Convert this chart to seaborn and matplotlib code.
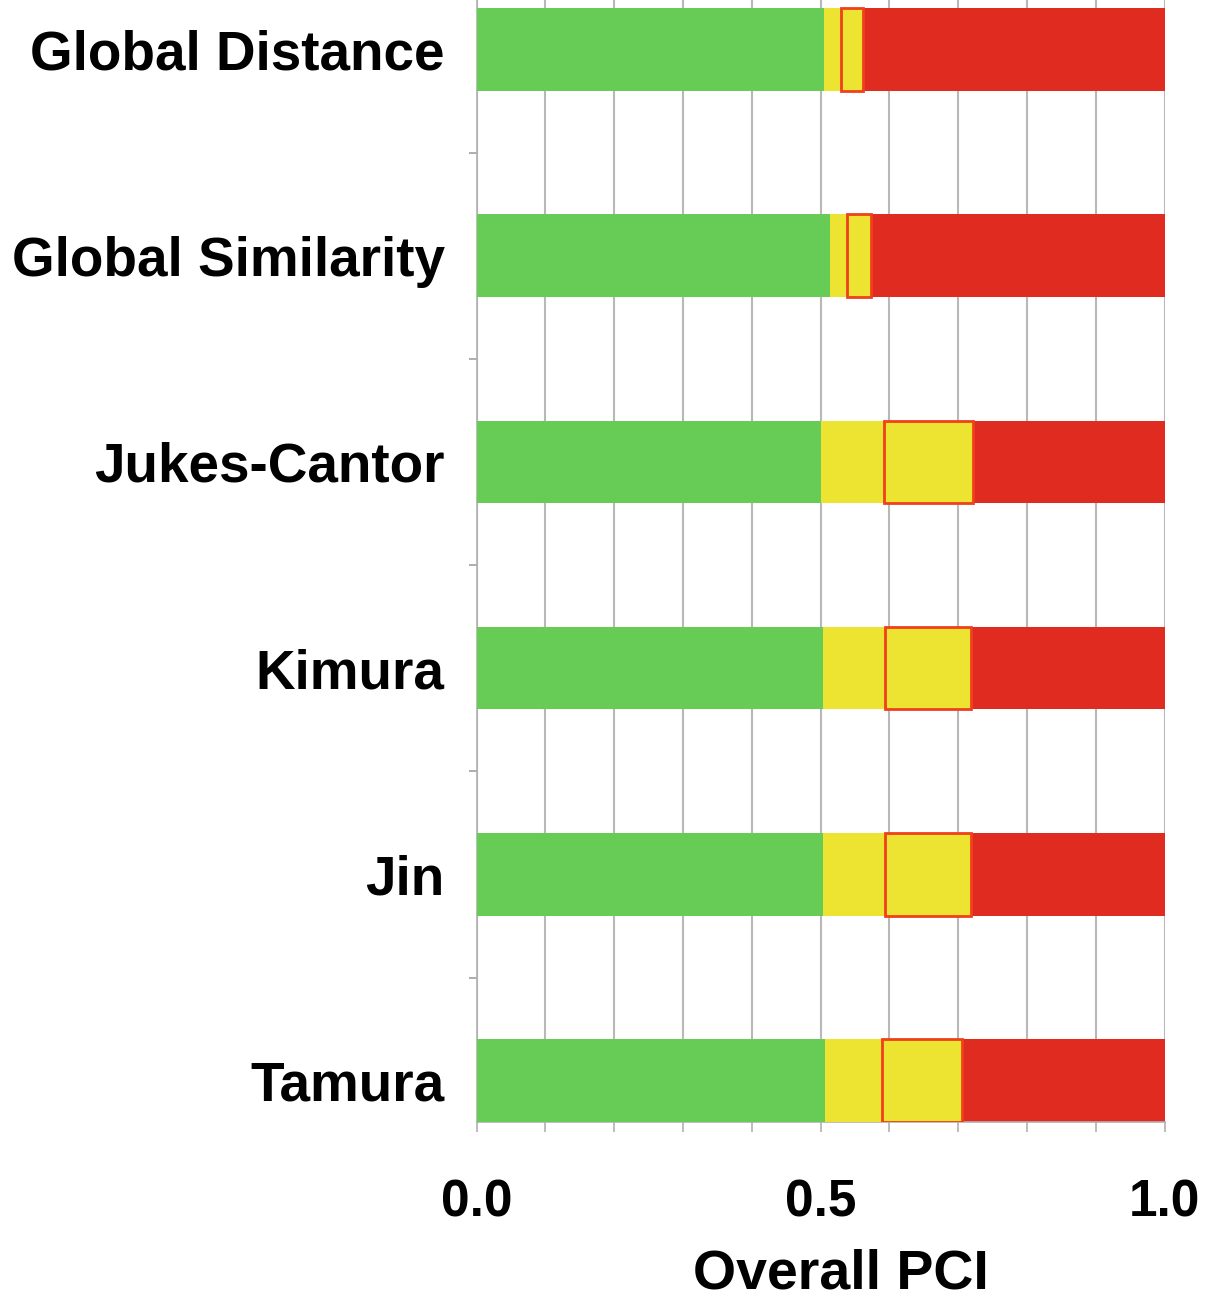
import numpy as np
import pandas as pd
import matplotlib
matplotlib.use("Agg")
import matplotlib.pyplot as plt
import seaborn as sns

# values (fraction of Overall PCI)
methods = ["Global Distance", "Global Similarity", "Jukes-Cantor", "Kimura", "Jin", "Tamura"]
green_end = [0.505, 0.513, 0.501, 0.504, 0.504, 0.507]
yellow_end = [0.529, 0.539, 0.592, 0.594, 0.594, 0.590]
box_end = [0.561, 0.573, 0.721, 0.718, 0.718, 0.706]
total = [1.0, 1.0, 1.0, 1.0, 1.0, 1.0]

GREEN = "#66cc55"
YELLOW = "#ece430"
RED = "#e02c20"
EDGE = "#f0401c"

df = pd.DataFrame({
    "method": methods,
    "green": green_end,
    "yellow": yellow_end,
    "box": box_end,
    "total": total,
})
df["box_width"] = df["box"] - df["yellow"]

sns.set_style("white")
plt.rcParams["font.family"] = ["Liberation Sans", "DejaVu Sans"]
plt.rcParams["text.color"] = "black"
plt.rcParams["xtick.labelcolor"] = "black"
plt.rcParams["ytick.labelcolor"] = "black"
plt.rcParams["axes.labelcolor"] = "black"

fig = plt.figure(figsize=(12.22, 13), dpi=100)
ax = fig.add_axes([0.390, 0.137, 0.563, 0.863])

bh = 0.4
sns.barplot(data=df, x="total", y="method", order=methods, color=RED,
            width=bh, linewidth=0, saturation=1, ax=ax, zorder=2)
sns.barplot(data=df, x="yellow", y="method", order=methods, color=YELLOW,
            width=bh, linewidth=0, saturation=1, ax=ax, zorder=3)
sns.barplot(data=df, x="green", y="method", order=methods, color=GREEN,
            width=bh, linewidth=0, saturation=1, ax=ax, zorder=4)
# outlined box segment
sns.barplot(data=df, x="box_width", y="method", order=methods, color=YELLOW,
            width=bh, edgecolor=EDGE, linewidth=2, saturation=1,
            left=df["yellow"].to_numpy(), ax=ax, zorder=5)

ax.set_xlim(0, 1.0)
ax.set_ylim(5.2, -0.24)

ax.set_xticks([0.0, 0.5, 1.0])
ax.set_xticks(np.arange(0.1, 1.0, 0.1), minor=True)
ax.set_xticklabels(["0.0", "0.5", "1.0"], fontsize=37, fontweight="bold")
ax.xaxis.grid(True, which="both", color="#b8b8b8", linewidth=1.5, zorder=0)
ax.set_axisbelow(True)
ax.tick_params(axis="x", which="both", length=7, width=1.2, color="#b0b0b0",
               pad=34, direction="out", bottom=True)

ax.set_yticks(range(len(methods)))
ax.set_yticklabels(methods, fontsize=39.5, fontweight="bold")
ax.set_yticks(np.arange(0.5, len(methods) - 1, 1.0), minor=True)
ax.tick_params(axis="y", which="major", length=0, pad=23)
ax.tick_params(axis="y", which="minor", length=6, width=1.2, color="#a0a0a0", left=True)

ax.set_xlabel("Overall PCI", fontsize=40, fontweight="bold", labelpad=15)
ax.xaxis.label.set_x(0.53)
ax.set_ylabel("")

for side in ["top", "right"]:
    ax.spines[side].set_visible(False)
for side in ["left", "bottom"]:
    ax.spines[side].set_color("#b0b0b0")
    ax.spines[side].set_linewidth(1.2)

fig.savefig("out.png", dpi=100)
